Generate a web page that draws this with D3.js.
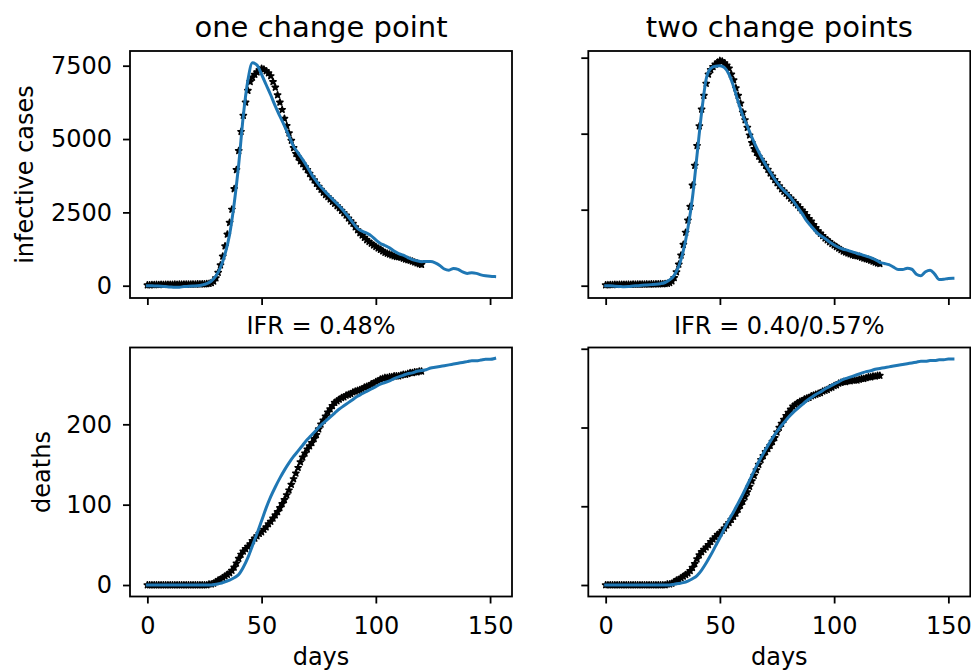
<!DOCTYPE html>
<html>
<head>
<meta charset="utf-8">
<style>
body { margin: 0; background: #fff; }
svg { display: block; font-family: "DejaVu Sans", sans-serif; }
</style>
</head>
<body>
<svg id="chart" width="971" height="672"></svg>

<script src="https://cdn.jsdelivr.net/npm/d3@7"></script>
<script>

// observed data, one value per day starting at day 0
var cases = [
  20, 25, 30, 28, 35, 32, 38, 35, 40, 38,
  42, 40, 45, 42, 46, 44, 48, 45, 50, 48,
  52, 50, 55, 53, 58, 56, 62, 70, 95, 150,
  260, 450, 700, 1000, 1350, 1750, 2150, 2600, 3300, 3950,
  4600, 5250, 5800, 6250, 6650, 6950, 7100, 7200, 7280, 7350,
  7400, 7380, 7320, 7250, 7150, 6950, 6760, 6500, 6250, 6000,
  5700, 5450, 5200, 4950, 4700, 4500, 4380, 4250, 4150, 4050,
  3950, 3820, 3700, 3600, 3480, 3380, 3280, 3180, 3100, 3030,
  2950, 2870, 2800, 2720, 2650, 2560, 2480, 2400, 2300, 2200,
  2120, 2000, 1900, 1800, 1720, 1640, 1560, 1500, 1440, 1380,
  1330, 1280, 1230, 1180, 1130, 1100, 1070, 1040, 1010, 990,
  980, 960, 930, 900, 880, 860, 830, 800, 770, 740, 720
];

var deaths = [
  0, 0, 0, 0, 0, 0, 0, 0, 0, 0,
  0, 0, 0, 0, 0, 0, 0, 0, 0, 0,
  0, 0, 0, 0, 0, 0, 0, 1, 1, 2,
  4, 6, 7, 9, 11, 13, 15, 18, 22, 27,
  33, 38, 42, 45, 48, 51, 55, 58, 61, 64,
  66, 69, 72, 76, 79, 83, 87, 91, 96, 101,
  106, 112, 118, 125, 132, 139, 146, 153, 159, 164,
  169, 173, 177, 182, 187, 194, 200, 205, 210, 215,
  219, 223, 227, 229, 231, 233, 234, 236, 237, 238,
  240, 241, 242, 243, 244, 246, 247, 248, 250, 251,
  253, 254, 256, 257, 258, 258, 259, 259, 260, 260,
  260, 261, 262, 262, 263, 264, 264, 265, 265, 266, 266
];

// model fits, every 2 days from day 0 to day 152
var fitCases1 = [
  0, -5, -10, -15, -30, -45, -55, -50, -30, -20,
  -10, 0, 25, 70, 160, 330, 620, 1080, 1750, 2800,
  4150, 5800, 7000, 7600, 7520, 7200, 6850, 6500, 6120, 5780,
  5450, 5100, 4750, 4520, 4300, 4050, 3780, 3560, 3360, 3190,
  3030, 2870, 2720, 2540, 2350, 2140, 1950, 1860, 1790, 1700,
  1560, 1440, 1370, 1290, 1180, 1090, 1040, 960, 890, 850,
  820, 825, 825, 780, 690, 570, 530, 590, 560, 470,
  420, 440, 420, 370, 340, 320, 310
];

var fitCases2 = [
  0, -5, -15, -25, -35, -30, -10, 0, 15, 25,
  35, 45, 65, 105, 190, 340, 640, 1150, 1900, 2900,
  4300, 5700, 6800, 7150, 7220, 7230, 7170, 6950, 6550, 6050,
  5600, 5250, 4880, 4550, 4250, 3980, 3740, 3500, 3300, 3130,
  2980, 2800, 2580, 2370, 2130, 1950, 1780, 1650, 1550, 1440,
  1340, 1260, 1200, 1160, 1110, 1060, 1020, 970, 920, 860,
  770, 730, 690, 610, 530, 530, 570, 540, 380, 330,
  460, 510, 380, 200, 210, 240, 245
];

var fitDeaths1 = [
  0, 0, 0, 0, 0, 0, 0, 0, 0, 0,
  0, 0, 0, 0, 0, 1, 2, 4, 6, 9,
  13, 22, 34, 49, 64, 80, 96, 110, 122, 133,
  143, 152, 160, 167, 174, 181, 187, 193, 199, 204,
  209, 214, 219, 223, 227, 231, 235, 238, 241, 244,
  247, 250, 252, 254, 257, 259, 261, 263, 264, 266,
  267, 268, 270, 271, 272, 273, 274, 275, 276, 277,
  278, 279, 279, 280, 281, 281, 282
];

var fitDeaths2 = [
  0, 0, 0, 0, 0, 0, 0, 0, 0, 0,
  0, 0, 0, 0, 0, 1, 2, 3, 5, 8,
  12, 19, 28, 38, 49, 60, 72, 83, 93, 104,
  115, 127, 139, 151, 162, 172, 182, 191, 199, 206,
  213, 219, 224, 229, 234, 238, 242, 245, 249, 252,
  255, 258, 261, 263, 265, 267, 269, 271, 272, 274,
  275, 276, 277, 278, 279, 280, 281, 282, 283, 284,
  284, 285, 285, 286, 286, 287, 287
];

var obsDays = d3.range(0, cases.length);
var fitDays = d3.range(0, 153, 2);

var titles = ["one change point", "two change points"];
var ifrLabels = ["IFR = 0.48%", "IFR = 0.40/0.57%"];
var xTicks = [0, 50, 100, 150];
var casesTicks = [0, 2500, 5000, 7500];
var deathTicks1 = [0, 100, 200];
var deathTicks2 = [0, 100, 200, 300];

var xLim = [-7.6, 159.6];
var casesLim1 = [-419, 8001];
var casesLim2 = [-405, 7719];
var deathsLim1 = [-14.3, 295.6];
var deathsLim2 = [-14.6, 301.6];

var blue = "#1f77b4";
var fs = 24;

var svg = d3.select("#chart");
svg.append("rect").attr("width", 971).attr("height", 672).attr("fill", "#fff");

var cols = [130, 588.3];
var colW = 382;
var rows = [{top: 51, bottom: 298}, {top: 347.5, bottom: 596.5}];

var panels = [
  {col: 0, row: 0, obs: cases, fit: fitCases1, lim: casesLim1, yt: casesTicks, ylab: true, xlab: false},
  {col: 1, row: 0, obs: cases, fit: fitCases2, lim: casesLim2, yt: casesTicks, ylab: false, xlab: false},
  {col: 0, row: 1, obs: deaths, fit: fitDeaths1, lim: deathsLim1, yt: deathTicks1, ylab: true, xlab: true},
  {col: 1, row: 1, obs: deaths, fit: fitDeaths2, lim: deathsLim2, yt: deathTicks2, ylab: false, xlab: true}
];

var star = d3.symbol().type(d3.symbolStar).size(12);

panels.forEach(function(p) {
  var left = cols[p.col], right = left + colW;
  var top = rows[p.row].top, bottom = rows[p.row].bottom;

  var x = d3.scaleLinear().domain(xLim).range([left, right]);
  var y = d3.scaleLinear().domain(p.lim).range([bottom, top]);

  var g = svg.append("g");

  // observed points
  g.append("g").selectAll("path")
    .data(p.obs)
    .join("path")
    .attr("d", star)
    .attr("transform", function(d, i) { return "translate(" + x(obsDays[i]) + "," + y(d) + ")"; })
    .attr("fill", "#000")
    .attr("stroke", "#000")
    .attr("stroke-width", 1.6)
    .attr("stroke-linejoin", "round");

  // fit
  var line = d3.line()
    .x(function(d, i) { return x(fitDays[i]); })
    .y(function(d) { return y(d); })
    .curve(d3.curveMonotoneX);

  g.append("path")
    .datum(p.fit)
    .attr("d", line)
    .attr("fill", "none")
    .attr("stroke", blue)
    .attr("stroke-width", 3)
    .attr("stroke-linejoin", "round")
    .attr("stroke-linecap", "square");

  // axes
  var xa = g.append("g")
    .attr("transform", "translate(0," + bottom + ")")
    .call(d3.axisBottom(x).tickValues(xTicks).tickSize(7).tickPadding(13)
      .tickFormat(p.xlab ? d3.format("d") : function() { return ""; }));
  var ya = g.append("g")
    .attr("transform", "translate(" + left + ",0)")
    .call(d3.axisLeft(y).tickValues(p.yt).tickSize(7).tickPadding(11)
      .tickFormat(p.ylab ? d3.format("d") : function() { return ""; }));

  [xa, ya].forEach(function(a) {
    a.select(".domain").remove();
    a.attr("font-family", "DejaVu Sans").attr("font-size", fs);
    a.selectAll("line").attr("stroke", "#000").attr("stroke-width", 1.8);
    a.selectAll("text").attr("fill", "#000");
  });

  // frame
  g.append("rect")
    .attr("x", left).attr("y", top)
    .attr("width", right - left).attr("height", bottom - top)
    .attr("fill", "none")
    .attr("stroke", "#000")
    .attr("stroke-width", 1.8);
});

// titles
titles.forEach(function(t, i) {
  svg.append("text")
    .attr("x", cols[i] + colW / 2)
    .attr("y", 36.5)
    .attr("text-anchor", "middle")
    .attr("font-size", 29)
    .text(t);
});

ifrLabels.forEach(function(t, i) {
  svg.append("text")
    .attr("x", cols[i] + colW / 2)
    .attr("y", 333.5)
    .attr("text-anchor", "middle")
    .attr("font-size", fs)
    .text(t);
});

// axis labels
[0, 1].forEach(function(i) {
  svg.append("text")
    .attr("x", cols[i] + colW / 2)
    .attr("y", 665)
    .attr("text-anchor", "middle")
    .attr("font-size", fs)
    .text("days");
});

svg.append("text")
  .attr("transform", "translate(33," + (rows[0].top + rows[0].bottom) / 2 + ") rotate(-90)")
  .attr("text-anchor", "middle")
  .attr("font-size", fs)
  .text("infective cases");

svg.append("text")
  .attr("transform", "translate(50," + (rows[1].top + rows[1].bottom) / 2 + ") rotate(-90)")
  .attr("text-anchor", "middle")
  .attr("font-size", fs)
  .text("deaths");

</script>
</body>
</html>
